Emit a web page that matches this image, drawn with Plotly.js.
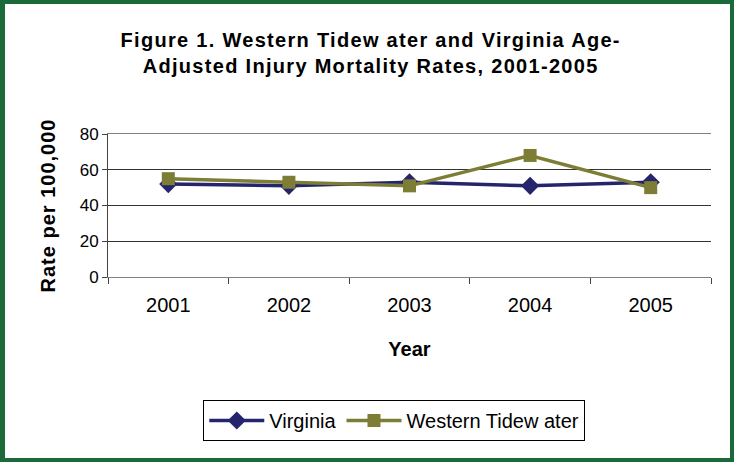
<!DOCTYPE html>
<html>
<head>
<meta charset="utf-8">
<script src="https://cdn.plot.ly/plotly-3.0.1.min.js"></script>
<style>
  body { margin: 0; background: #fff; }
  #wrap { position: relative; width: 734px; height: 466px; }
  #chart { width: 734px; height: 466px; }
  #frame {
    position: absolute; left: 0; top: 0; width: 734px; height: 462px;
    box-sizing: border-box; border: 4px solid #1b6b3a; border-left-width: 5px;
    pointer-events: none;
  }
  /* the original rendering has loose letter spacing */
  #chart .gtitle { letter-spacing: 1.3px; }
  #chart .ytitle { letter-spacing: 1px; }
</style>
</head>
<body>
<div id="wrap">
  <div id="chart"></div>
  <div id="frame"></div>
</div>
<script>
  var years = ["2001", "2002", "2003", "2004", "2005"];
  var virginia = [52, 51, 53, 51, 53];
  var westernTidewater = [55, 53, 51, 68, 50];
  var yTicks = [0, 20, 40, 60, 80];

  var trace1 = {
    x: years,
    y: virginia,
    name: "Virginia",
    mode: "lines+markers",
    line: { color: "#25256e", width: 3.5 },
    marker: { symbol: "diamond", size: 14, color: "#25256e" }
  };

  var trace2 = {
    x: years,
    y: westernTidewater,
    name: "Western Tidew ater",
    mode: "lines+markers",
    line: { color: "#7d7d35", width: 3.5 },
    marker: { symbol: "square", size: 13, color: "#7d7d35" }
  };

  var data = [trace1, trace2];

  var layout = {
    width: 734,
    height: 466,
    paper_bgcolor: "#fff",
    plot_bgcolor: "#fff",
    font: { family: "Liberation Sans, Arial, sans-serif", color: "#000" },
    margin: { l: 108, r: 23, t: 134, b: 189, pad: 0 },
    title: {
      text: "<b>Figure 1. Western Tidew ater and Virginia Age-<br>Adjusted Injury Mortality Rates, 2001-2005</b>",
      font: { size: 20, color: "#000" },
      x: 0.505,
      xanchor: "center",
      y: 0.9,
      yanchor: "top"
    },
    showlegend: true,
    legend: {
      orientation: "h",
      x: 0.158,
      xanchor: "left",
      y: -0.86,
      yanchor: "top",
      bordercolor: "#000",
      borderwidth: 1,
      font: { size: 20 },
      itemwidth: 55
    },
    xaxis: {
      type: "category",
      range: [-0.5, 4.5],
      showline: true,
      linecolor: "#808080",
      linewidth: 1,
      mirror: true,
      ticks: "outside",
      tickson: "boundaries",
      ticklen: 6,
      tickcolor: "#444",
      showgrid: false,
      tickfont: { size: 20 },
      ticklabelstandoff: 10,
      title: { text: "<b>Year</b>", font: { size: 20 }, standoff: 26 },
      fixedrange: true
    },
    yaxis: {
      range: [0, 80],
      tickvals: yTicks,
      showline: true,
      linecolor: "#444",
      linewidth: 1,
      ticks: "outside",
      ticklen: 5,
      tickcolor: "#444",
      showgrid: true,
      gridcolor: "#333",
      gridwidth: 1,
      zeroline: false,
      tickfont: { size: 17 },
      title: { text: "<b>Rate per 100,000</b>", font: { size: 20 }, standoff: 18 },
      fixedrange: true
    }
  };

  var config = { displayModeBar: false, staticPlot: true };

  Plotly.newPlot("chart", data, layout, config);
</script>
</body>
</html>
